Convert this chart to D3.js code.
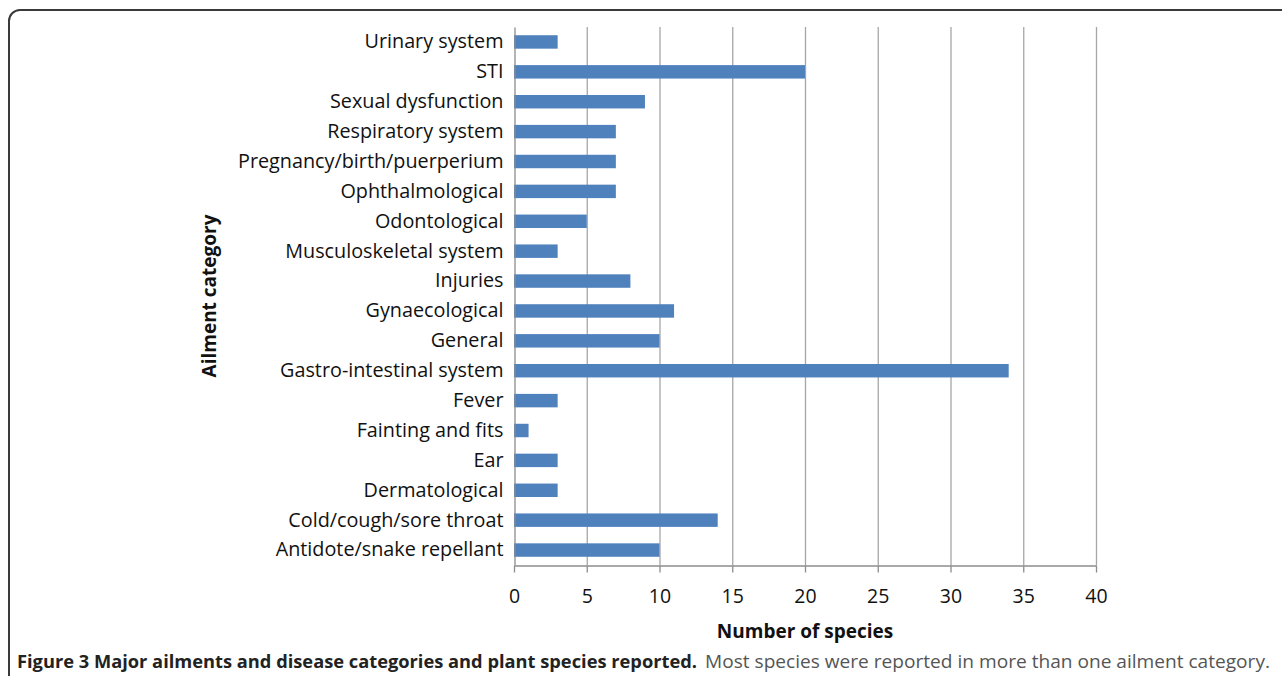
<!DOCTYPE html>
<html>
<head>
<meta charset="utf-8">
<script src="https://cdn.jsdelivr.net/npm/d3@7"></script>
<style>
  html, body { margin: 0; padding: 0; background: #fff; }
  svg { display: block; }
</style>
</head>
<body>
<svg id="chart" width="1282" height="676"></svg>
<script>
// Ailment categories, listed top to bottom
const categories = [
  "Urinary system", "STI", "Sexual dysfunction", "Respiratory system",
  "Pregnancy/birth/puerperium", "Ophthalmological", "Odontological",
  "Musculoskeletal system", "Injuries", "Gynaecological", "General",
  "Gastro-intestinal system", "Fever", "Fainting and fits", "Ear",
  "Dermatological", "Cold/cough/sore throat", "Antidote/snake repellant"
];
// Number of plant species reported per category
const speciesCounts = [3, 20, 9, 7, 7, 7, 5, 3, 8, 11, 10, 34, 3, 1, 3, 3, 14, 10];
const xTicks = [0, 5, 10, 15, 20, 25, 30, 35, 40];

const xTitle = "Number of species";
const yTitle = "Ailment category";
const captionBold = "Figure 3 Major ailments and disease categories and plant species reported.";
const captionRest = "Most species were reported in more than one ailment category.";

const svg = d3.select("#chart");
const font = "'Open Sans', 'Noto Sans', sans-serif";

// Figure frame: top and left edges with a rounded corner
svg.append("path")
  .attr("d", "M9,676 V21 A11,11 0 0 1 20,10 H1282")
  .attr("fill", "none")
  .attr("stroke", "#3a3a3a")
  .attr("stroke-width", 2);

const plot = { left: 514, right: 1096, top: 27, bottom: 565 };

const x = d3.scaleLinear().domain([0, 40]).range([plot.left, plot.right]);
const y = d3.scaleBand().domain(categories).range([plot.top, plot.bottom]).paddingInner(0.55).paddingOuter(0.275);

// Vertical gridlines
svg.append("g")
  .selectAll("line")
  .data(xTicks.filter(d => d > 0))
  .join("line")
  .attr("x1", d => x(d) + 0.5).attr("x2", d => x(d) + 0.5)
  .attr("y1", plot.top).attr("y2", plot.bottom)
  .attr("stroke", "#a6a6a6")
  .attr("stroke-width", 1.3);

// Bars
svg.append("g")
  .selectAll("rect")
  .data(categories.map((c, i) => ({ c, v: speciesCounts[i] })))
  .join("rect")
  .attr("x", x(0))
  .attr("y", d => y(d.c))
  .attr("width", d => x(d.v) - x(0))
  .attr("height", y.bandwidth())
  .attr("fill", "#4f81bd");

// Category axis (left)
const yAxis = svg.append("g")
  .attr("transform", `translate(${plot.left + 0.5},0)`)
  .call(d3.axisLeft(y).tickSize(0).tickPadding(11));
yAxis.select(".domain").attr("stroke", "#8c8c8c").attr("stroke-width", 1.3);
yAxis.selectAll("text")
  .attr("font-family", font)
  .attr("font-size", 19.8)
  .attr("fill", "#111");

// Value axis (bottom)
const xAxis = svg.append("g")
  .attr("transform", `translate(0,${plot.bottom + 0.5})`)
  .call(d3.axisBottom(x).tickValues(xTicks).tickSize(7).tickPadding(17).tickSizeOuter(0));
xAxis.select(".domain").attr("stroke", "#8c8c8c").attr("stroke-width", 1.3);
xAxis.selectAll(".tick line").attr("stroke", "#8c8c8c").attr("stroke-width", 1.3);
xAxis.selectAll("text")
  .attr("font-family", font)
  .attr("font-size", 19.5)
  .attr("fill", "#111");

// Axis titles
svg.append("text")
  .attr("x", (plot.left + plot.right) / 2)
  .attr("y", 638)
  .attr("text-anchor", "middle")
  .attr("font-family", font)
  .attr("font-weight", "bold")
  .attr("font-size", 19)
  .attr("fill", "#111")
  .text(xTitle);

svg.append("text")
  .attr("transform", `translate(216,${(plot.top + plot.bottom) / 2}) rotate(-90)`)
  .attr("text-anchor", "middle")
  .attr("font-family", font)
  .attr("font-weight", "bold")
  .attr("font-size", 19)
  .attr("fill", "#111")
  .text(yTitle);

// Caption
const cap = svg.append("text")
  .attr("x", 17)
  .attr("y", 668)
  .attr("font-family", font)
  .attr("font-size", 18.5)
  .attr("fill", "#222");
cap.append("tspan")
  .attr("font-weight", "bold")
  .attr("textLength", 680)
  .attr("lengthAdjust", "spacingAndGlyphs")
  .text(captionBold);
cap.append("tspan")
  .attr("x", 705)
  .attr("fill", "#555")
  .attr("textLength", 565)
  .attr("lengthAdjust", "spacingAndGlyphs")
  .text(captionRest);
</script>
</body>
</html>
